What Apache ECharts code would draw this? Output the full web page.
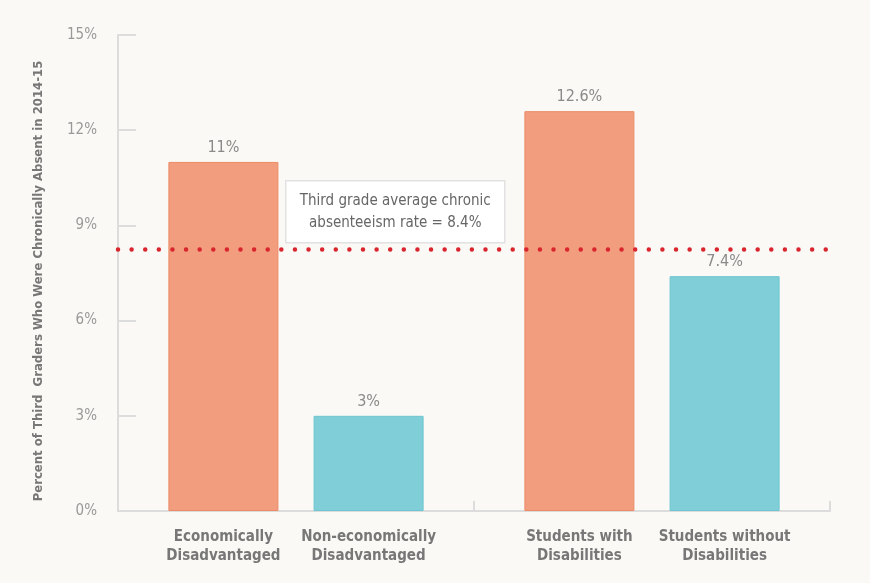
<!DOCTYPE html>
<html>
<head>
<meta charset="utf-8">
<script src="https://cdn.jsdelivr.net/npm/echarts@6/dist/echarts.min.js"></script>
<style>
html,body{margin:0;padding:0;background:#faf9f5;}
#chart{width:870px;height:583px;}
</style>
</head>
<body>
<div id="chart"></div>
<script>
// Data
var groups = ['Economic status', 'Disability status'];
var orangeNames = ['Economically\nDisadvantaged', 'Students with\nDisabilities'];
var tealNames = ['Non-economically\nDisadvantaged', 'Students without\nDisabilities'];
var orangeValues = [11, 12.6];
var tealValues = [3, 7.4];
var averageRate = 8.25;
var averageText = 'Third grade average chronic\nabsenteeism rate = 8.4%';
var yTicks = [0, 3, 6, 9, 12, 15];

var FONT = "'DejaVu Sans Condensed', 'Liberation Sans Narrow', sans-serif";
var chart = echarts.init(document.getElementById('chart'));

function nameSeries(names, stackId) {
  return {
    type: 'bar', stack: stackId, barWidth: 110,
    data: names.map(function () { return 0; }),
    itemStyle: { color: 'transparent' },
    label: {
      show: true, position: 'bottom', distance: 17,
      formatter: function (p) { return names[p.dataIndex]; },
      color: '#777777', fontFamily: FONT, fontWeight: 'bold', fontSize: 15, lineHeight: 19
    },
    silent: true
  };
}
function valueLabel() {
  return {
    show: true, position: 'top', distance: 6,
    formatter: function (p) { return p.value + '%'; },
    color: '#8a8a8a', fontFamily: FONT, fontSize: 16
  };
}

chart.setOption({
  backgroundColor: '#faf9f5',
  animation: false,
  grid: { left: 118, right: 40, top: 35, bottom: 72, outerBoundsMode: 'none', containLabel: false },
  xAxis: {
    type: 'category', data: groups,
    axisLine: { lineStyle: { color: '#dcdcdc', width: 2 } },
    axisTick: { show: true, inside: true, length: 10, lineStyle: { color: '#dcdcdc', width: 2 } },
    axisLabel: { show: false }
  },
  yAxis: {
    type: 'value', min: yTicks[0], max: yTicks[yTicks.length - 1], interval: 3,
    name: 'Percent of Third  Graders Who Were Chronically Absent in 2014-15',
    nameLocation: 'middle', nameGap: 73, nameRotate: 90,
    nameTextStyle: { color: '#777', fontFamily: FONT, fontWeight: 'bold', fontSize: 13, padding: [0, 16, 0, 0] },
    axisLine: { show: true, lineStyle: { color: '#dcdcdc', width: 2 } },
    axisTick: { show: true, inside: true, length: 18, lineStyle: { color: '#dcdcdc', width: 2 } },
    splitLine: { show: false },
    axisLabel: { formatter: '{value}%', margin: 21, color: '#999', fontFamily: FONT, fontSize: 15 }
  },
  series: [
    nameSeries(orangeNames, 'o'),
    {
      type: 'bar', stack: 'o', barWidth: 110, barGap: '32%',
      data: orangeValues,
      itemStyle: { color: '#f29d7d', borderColor: '#ec8a66', borderWidth: 1 },
      label: valueLabel(),
      markLine: {
        silent: true, symbol: 'none',
        data: [{ yAxis: averageRate }],
        label: { show: false },
        lineStyle: { color: '#d9262e', width: 4.5, type: [0.01, 13.6], cap: 'round', opacity: 1 }
      }
    },
    nameSeries(tealNames, 't'),
    {
      type: 'bar', stack: 't', barWidth: 110,
      data: tealValues,
      itemStyle: { color: '#80ced8', borderColor: '#6cc5d0', borderWidth: 1 },
      label: valueLabel()
    }
  ],
  graphic: [
    {
      type: 'group', left: 285, top: 180,
      children: [
        { type: 'rect', shape: { x: 0, y: 0, width: 219, height: 62 },
          style: { fill: '#ffffff', stroke: '#e2e2e2', lineWidth: 1.5 } },
        { type: 'text', x: 109.5, y: 31,
          style: { text: averageText, fill: '#666', font: '15px ' + FONT, align: 'center', verticalAlign: 'middle', lineHeight: 22 } }
      ]
    }
  ]
});
</script>
</body>
</html>
